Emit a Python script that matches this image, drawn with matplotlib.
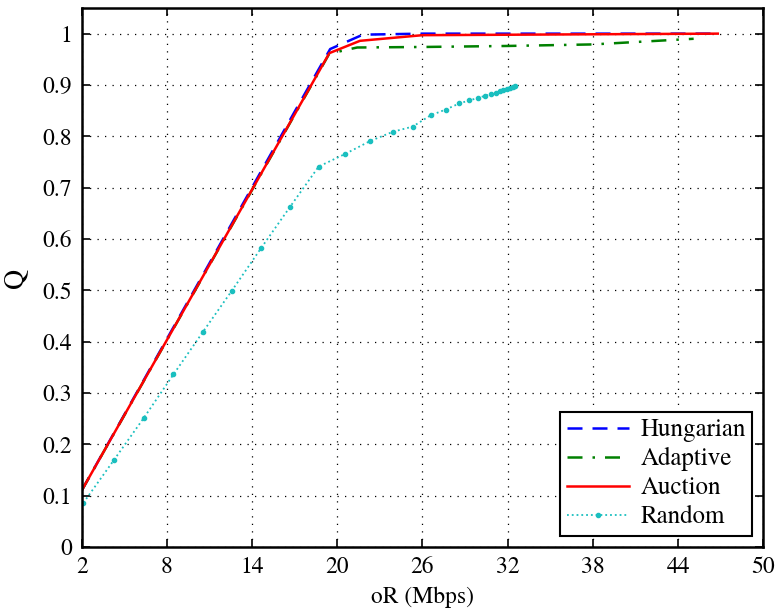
import matplotlib.pyplot as plt

plt.rcParams["font.family"] = ["TeX Gyre Termes", "Liberation Serif", "DejaVu Serif"]

# data
hung_x = [2, 17.0, 19.5, 21.8, 26.0, 46.8]
hung_y = [0.11, 0.848, 0.970, 0.998, 1.0, 1.0]

adap_x = [2, 19.44, 21.4, 26.0, 32.0, 38.0, 45.1]
adap_y = [0.11, 0.961, 0.973, 0.974, 0.976, 0.979, 0.990]

auct_x = [2, 19.44, 21.6, 26.0, 46.8]
auct_y = [0.11, 0.962, 0.986, 0.997, 1.0]

rand_x = [2.12, 4.26, 6.39, 8.46, 10.54, 12.57, 14.63, 16.66, 18.69, 20.58,
          22.33, 23.94, 25.32, 26.58, 27.63, 28.59, 29.31, 29.94, 30.43,
          30.80, 31.15, 31.45, 31.70, 31.95, 32.15, 32.35, 32.55]
rand_y = [0.086, 0.169, 0.252, 0.336, 0.419, 0.499, 0.582, 0.662, 0.741, 0.766,
          0.791, 0.809, 0.819, 0.841, 0.852, 0.864, 0.870, 0.875, 0.879,
          0.882, 0.885, 0.888, 0.890, 0.892, 0.894, 0.896, 0.898]

x_ticks = [2, 8, 14, 20, 26, 32, 38, 44, 50]
y_ticks = [0, 0.1, 0.2, 0.3, 0.4, 0.5, 0.6, 0.7, 0.8, 0.9, 1]
y_tick_labels = ["0", "0.1", "0.2", "0.3", "0.4", "0.5", "0.6", "0.7", "0.8", "0.9", "1"]

fig = plt.figure(figsize=(7.78, 6.13), dpi=100)
ax = fig.add_axes([0.105, 0.1077, 0.876, 0.8793])

ax.plot(hung_x, hung_y, "--", color=(0, 0, 1), lw=1.8, dashes=(6, 4), label="Hungarian")
ax.plot(adap_x, adap_y, "-.", color=(0, 0.5, 0), lw=1.8, dashes=(6, 4, 1, 4), label="Adaptive")
ax.plot(auct_x, auct_y, "-", color=(1, 0, 0), lw=1.8, label="Auction")
ax.plot(rand_x, rand_y, ":", color=(0.1, 0.75, 0.75), lw=1.3, marker=".", ms=6,
        label="Random")

ax.set_xlim(2, 50)
ax.set_ylim(0, 1.05)
ax.set_xticks(x_ticks)
ax.set_xticklabels([str(t) for t in x_ticks])
ax.set_yticks(y_ticks)
ax.set_yticklabels(y_tick_labels)
ax.tick_params(direction="in", top=True, right=True, length=6, width=1.2,
               labelsize=17, pad=7)
ax.grid(True, linestyle=(0, (1, 5)), color="black", lw=0.9)
for s in ax.spines.values():
    s.set_linewidth(1.8)

ax.set_xlabel("oR (Mbps)", fontsize=17, labelpad=6)
ax.set_ylabel("Q", fontsize=20, labelpad=10)

leg = ax.legend(loc="lower right", fontsize=18, fancybox=False, framealpha=1,
                edgecolor="black", handlelength=2.5, handletextpad=0.45, numpoints=1,
                borderaxespad=0.45, labelspacing=0.2, borderpad=0.25)
leg.get_frame().set_linewidth(1.5)

fig.savefig("out.png", dpi=100)
